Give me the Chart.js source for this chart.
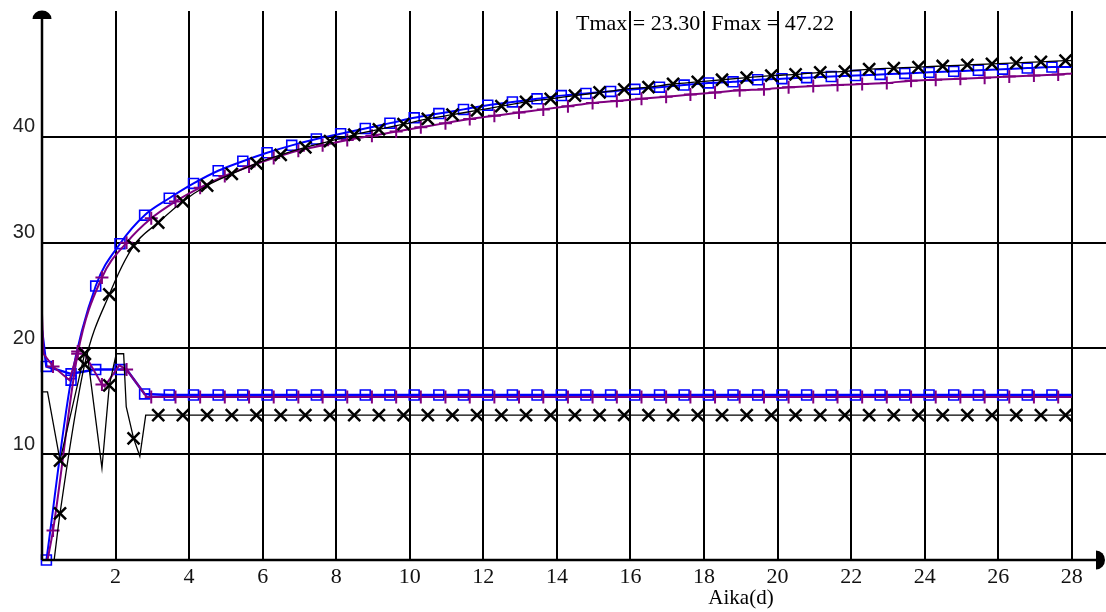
<!DOCTYPE html>
<html>
<head>
<meta charset="utf-8">
<script src="https://cdn.jsdelivr.net/npm/chart.js@4"></script>
<style>
  html, body { margin: 0; padding: 0; background: #fff; }
  canvas { display: block; }
</style>
</head>
<body>
<canvas id="chart" width="1106" height="612"></canvas>
<script>
// marker times (d), staggered per colour
const blueTimes = [0.12, 0.79, 1.46, 2.12, 2.79, 3.46, 4.12, 4.79, 5.46, 6.12, 6.79, 7.46, 8.12, 8.79,
  9.46, 10.12, 10.79, 11.46, 12.12, 12.79, 13.46, 14.12, 14.79, 15.46, 16.12, 16.79, 17.46, 18.12,
  18.79, 19.46, 20.12, 20.79, 21.46, 22.12, 22.79, 23.46, 24.12, 24.79, 25.46, 26.12, 26.79, 27.46];
const purpleTimes = [0.30, 0.97, 1.63, 2.30, 2.97, 3.63, 4.30, 4.97, 5.63, 6.30, 6.97, 7.63, 8.30, 8.97,
  9.63, 10.30, 10.97, 11.63, 12.30, 12.97, 13.63, 14.30, 14.97, 15.63, 16.30, 16.97, 17.63, 18.30,
  18.97, 19.63, 20.30, 20.97, 21.63, 22.30, 22.97, 23.63, 24.30, 24.97, 25.63, 26.30, 26.97, 27.63];
const blackTimes = [0.49, 1.16, 1.83, 2.49, 3.16, 3.83, 4.49, 5.16, 5.83, 6.49, 7.16, 7.83, 8.49, 9.16,
  9.83, 10.49, 11.16, 11.83, 12.49, 13.16, 13.83, 14.49, 15.16, 15.83, 16.49, 17.16, 17.83, 18.49,
  19.16, 19.83, 20.49, 21.16, 21.83, 22.49, 23.16, 23.83, 24.49, 25.16, 25.83, 26.49, 27.16, 27.83];

// rising curves (F)
const fBlue = [0, 17.0, 25.9, 29.9, 32.6, 34.2, 35.6, 36.8, 37.7, 38.5, 39.2, 39.8, 40.3, 40.8,
  41.3, 41.8, 42.2, 42.6, 43.0, 43.3, 43.6, 43.9, 44.1, 44.3, 44.5, 44.7, 44.9, 45.1,
  45.2, 45.4, 45.5, 45.6, 45.7, 45.8, 45.9, 46.0, 46.1, 46.2, 46.3, 46.4, 46.5, 46.6];
const fPurple = [2.8, 19.5, 26.7, 30.0, 32.3, 33.9, 35.2, 36.3, 37.2, 38.0, 38.7, 39.2, 39.7, 40.1,
  40.5, 40.9, 41.3, 41.7, 42.0, 42.3, 42.6, 42.9, 43.2, 43.4, 43.6, 43.8, 44.0, 44.2,
  44.4, 44.5, 44.7, 44.8, 44.9, 45.0, 45.1, 45.3, 45.4, 45.5, 45.6, 45.7, 45.8, 45.9];
const fBlack = [4.4, 18.5, 25.1, 29.7, 31.9, 33.9, 35.4, 36.5, 37.5, 38.3, 39.0, 39.6, 40.2, 40.7,
  41.2, 41.7, 42.1, 42.5, 42.9, 43.3, 43.6, 43.9, 44.2, 44.5, 44.7, 45.0, 45.2, 45.4,
  45.6, 45.8, 45.9, 46.1, 46.2, 46.4, 46.5, 46.6, 46.7, 46.8, 46.9, 47.0, 47.1, 47.2];
// line-only ends of the F curves
const fBlueEndsX = [28];
const fBlueEndsY = [46.6];
const fPurpleEndsX = [0.15, 28];
const fPurpleEndsY = [0, 46.0];
const fBlackEndsX = [0.33, 28];
const fBlackEndsY = [0, 47.22];

// settling curves (T)
const tBlue = [18.3, 17.6, 18.0, 18.0, 15.7, 15.6, 15.6, 15.6, 15.6, 15.6, 15.6, 15.6, 15.6, 15.6,
  15.6, 15.6, 15.6, 15.6, 15.6, 15.6, 15.6, 15.6, 15.6, 15.6, 15.6, 15.6, 15.6, 15.6,
  15.6, 15.6, 15.6, 15.6, 15.6, 15.6, 15.6, 15.6, 15.6, 15.6, 15.6, 15.6, 15.6, 15.6];
const tPurple = [18.3, 19.7, 16.6, 18.0, 15.4, 15.4, 15.4, 15.4, 15.4, 15.4, 15.4, 15.4, 15.4, 15.4,
  15.4, 15.4, 15.4, 15.4, 15.4, 15.4, 15.4, 15.4, 15.4, 15.4, 15.4, 15.4, 15.4, 15.4,
  15.4, 15.4, 15.4, 15.4, 15.4, 15.4, 15.4, 15.4, 15.4, 15.4, 15.4, 15.4, 15.4, 15.4];
const tBlack = [9.4, 19.5, 16.5, 11.5, 13.7, 13.7, 13.7, 13.7, 13.7, 13.7, 13.7, 13.7, 13.7, 13.7,
  13.7, 13.7, 13.7, 13.7, 13.7, 13.7, 13.7, 13.7, 13.7, 13.7, 13.7, 13.7, 13.7, 13.7,
  13.7, 13.7, 13.7, 13.7, 13.7, 13.7, 13.7, 13.7, 13.7, 13.7, 13.7, 13.7, 13.7, 13.7];
// extra line vertices between markers
const tBlueExtraX = [0, 2.3, 28];
const tBlueExtraY = [21.7, 18.0, 15.6];
const tPurpleExtraX = [0, 0.04, 0.75, 1.07, 1.7, 2.1, 2.85, 28];
const tPurpleExtraY = [23.3, 19.5, 17.0, 20.0, 16.4, 18.4, 15.4, 15.4];
const tBlackExtraX = [0, 0.15, 1.22, 1.63, 2.02, 2.22, 2.29, 2.66, 2.82, 28];
const tBlackExtraY = [15.9, 15.9, 19.8, 8.7, 19.5, 19.5, 14.5, 9.8, 13.7, 13.7];

const xTicks = [2, 4, 6, 8, 10, 12, 14, 16, 18, 20, 22, 24, 26, 28];
const yTicks = [10, 20, 30, 40];
const titleText = "Tmax = 23.30  Fmax = 47.22";
const xAxisTitle = "Aika(d)";

const BLUE = "#0000ff";
const PURPLE = "#800080";
const BLACK = "#000000";

function points(xs, ys) {
  return xs.map((x, i) => ({ x, y: ys[i] }));
}

function path(markX, markY, extraX, extraY) {
  return points(markX.concat(extraX), markY.concat(extraY)).sort((a, b) => a.x - b.x);
}

function lineSet(data, color, width, smooth) {
  return {
    data,
    showLine: true,
    borderColor: color,
    borderWidth: width,
    pointRadius: 0,
    cubicInterpolationMode: smooth ? "monotone" : "default",
    tension: 0,
  };
}

function markSet(data, color, style, radius, width) {
  return {
    data,
    showLine: false,
    pointStyle: style,
    pointRadius: radius,
    pointBorderColor: color,
    pointBackgroundColor: "rgba(0,0,0,0)",
    pointBorderWidth: width,
    clip: false,
  };
}

const axesPlugin = {
  id: "axes",
  afterDraw(chart) {
    const { ctx, chartArea } = chart;
    const x0 = chartArea.left;
    const y0 = chartArea.bottom;
    ctx.save();
    ctx.strokeStyle = "#000";
    ctx.fillStyle = "#000";
    ctx.lineWidth = 2.5;
    ctx.beginPath();
    ctx.moveTo(x0, y0);
    ctx.lineTo(x0, 18);
    ctx.moveTo(x0, y0);
    ctx.lineTo(1096, y0);
    ctx.stroke();
    // arrow caps
    ctx.beginPath();
    ctx.ellipse(x0, 19, 9.5, 8.5, 0, Math.PI, 2 * Math.PI);
    ctx.closePath();
    ctx.fill();
    ctx.beginPath();
    ctx.ellipse(1096, y0, 9, 9.5, 0, -Math.PI / 2, Math.PI / 2);
    ctx.closePath();
    ctx.fill();

    ctx.fillStyle = "#000";
    ctx.font = '22px "Liberation Serif"';
    ctx.textAlign = "left";
    ctx.textBaseline = "alphabetic";
    ctx.fillText(titleText, 576, 30);
    ctx.font = '21px "Liberation Serif"';
    ctx.textAlign = "center";
    ctx.textBaseline = "middle";
    ctx.fillText(xAxisTitle, 741, 598);
    ctx.restore();
  },
};

new Chart(document.getElementById("chart"), {
  type: "scatter",
  data: {
    datasets: [
      markSet(points(blackTimes, fBlack), BLACK, "crossRot", 8.5, 2.5),
      markSet(points(blackTimes, tBlack), BLACK, "crossRot", 8.5, 2.5),
      lineSet(path(blackTimes, fBlack, fBlackEndsX, fBlackEndsY), BLACK, 1.3, true),
      lineSet(path(blackTimes, tBlack, tBlackExtraX, tBlackExtraY), BLACK, 1.3, false),
      markSet(points(purpleTimes, fPurple), PURPLE, "cross", 6.5, 2),
      markSet(points(purpleTimes, tPurple), PURPLE, "cross", 6.5, 2),
      lineSet(path(purpleTimes, fPurple, fPurpleEndsX, fPurpleEndsY), PURPLE, 2, true),
      lineSet(path(purpleTimes, tPurple, tPurpleExtraX, tPurpleExtraY), PURPLE, 2, false),
      markSet(points(blueTimes, fBlue), BLUE, "rect", 7, 1.6),
      markSet(points(blueTimes, tBlue), BLUE, "rect", 7, 1.6),
      lineSet(path(blueTimes, fBlue, fBlueEndsX, fBlueEndsY), BLUE, 2, true),
      lineSet(path(blueTimes, tBlue, tBlueExtraX, tBlueExtraY), BLUE, 2.5, false),
    ],
  },
  options: {
    responsive: false,
    animation: false,
    devicePixelRatio: 1,
    layout: { autoPadding: false, padding: { top: 11, right: 0, left: 0, bottom: 0 } },
    plugins: {
      legend: { display: false },
      tooltip: { enabled: false },
    },
    scales: {
      x: {
        type: "linear",
        min: 0,
        max: 28.93,
        afterBuildTicks: (scale) => {
          scale.ticks = xTicks.map((value) => ({ value }));
        },
        afterFit: (scale) => {
          scale.height = 52;
          scale.paddingLeft = 0;
          scale.paddingRight = 0;
        },
        grid: { color: "#000", lineWidth: 2, drawTicks: false },
        border: { display: false },
        ticks: {
          padding: 4,
          color: "#111",
          font: { family: "Liberation Serif", size: 22 },
          maxRotation: 0,
          autoSkip: false,
        },
      },
      y: {
        type: "linear",
        min: 0,
        max: 51.9,
        afterBuildTicks: (scale) => {
          scale.ticks = yTicks.map((value) => ({ value }));
        },
        afterFit: (scale) => {
          scale.width = 42;
          scale.paddingTop = 0;
          scale.paddingBottom = 0;
        },
        grid: { color: "#000", lineWidth: 2, drawTicks: false },
        border: { display: false },
        ticks: {
          padding: 7,
          labelOffset: -10,
          color: "#222",
          font: { family: "Liberation Sans", size: 20 },
        },
      },
    },
  },
  plugins: [axesPlugin],
});
</script>
</body>
</html>
